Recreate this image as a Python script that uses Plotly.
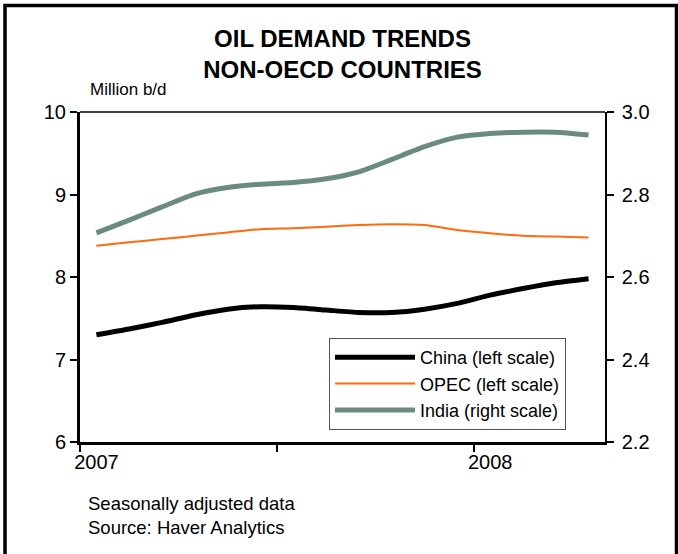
import plotly.graph_objects as go

# ---- data ----
months = ["2007-01", "2007-02", "2007-03", "2007-04", "2007-05", "2007-06",
          "2007-07", "2007-08", "2007-09", "2007-10", "2007-11", "2007-12",
          "2008-01", "2008-02", "2008-03", "2008-04"]
china = [7.30, 7.37, 7.45, 7.54, 7.61, 7.64, 7.63, 7.60, 7.57, 7.57, 7.61, 7.68,
         7.78, 7.86, 7.93, 7.98]
opec = [8.38, 8.42, 8.46, 8.50, 8.54, 8.58, 8.59, 8.61, 8.63, 8.64, 8.63, 8.57,
        8.53, 8.50, 8.49, 8.48]
india = [2.707, 2.738, 2.770, 2.801, 2.817, 2.825, 2.829, 2.838, 2.855, 2.885,
         2.916, 2.939, 2.948, 2.951, 2.951, 2.944]
year_labels = ["2007", "2008"]
left_ticks = [6, 7, 8, 9, 10]
right_ticks = [2.2, 2.4, 2.6, 2.8, 3.0]

x = list(range(len(months)))
year_pos = [i for i, m in enumerate(months) if m.endswith("-01")]

FONT = "Liberation Sans, Arial, sans-serif"
INDIA_COLOR = "#6b8b82"
ORANGE = "#ff6a0d"

fig = go.Figure()
fig.add_trace(go.Scatter(x=x, y=china, name="China (left scale)", mode="lines",
                         line=dict(color="black", width=5, shape="spline", smoothing=0.6)))
fig.add_trace(go.Scatter(x=x, y=opec, name="OPEC (left scale)", mode="lines",
                         line=dict(color=ORANGE, width=2, shape="spline", smoothing=0.6)))
fig.add_trace(go.Scatter(x=x, y=india, name="India (right scale)", mode="lines", yaxis="y2",
                         line=dict(color=INDIA_COLOR, width=5, shape="spline", smoothing=0.6)))

W, H = 678, 554
L, R, T, B = 80, 73, 112, 112
pw, ph = W - L - R, H - T - B

def px(xp):
    return (xp - L) / pw

def py(yp):
    return (H - B - yp) / ph

fig.update_layout(
    width=W, height=H,
    margin=dict(l=L, r=R, t=T, b=B),
    paper_bgcolor="white", plot_bgcolor="white",
    font=dict(family=FONT, color="black", size=20),
    title=dict(text="<b>OIL DEMAND TRENDS<br>NON-OECD COUNTRIES</b>",
               font=dict(family=FONT, size=24, color="black"),
               x=0.5, xref="paper", xanchor="center",
               y=1 - 47 / H, yref="container", yanchor="top"),
    xaxis=dict(range=[-0.5, len(months) - 0.5], tickmode="array",
               tickvals=year_pos, ticktext=year_labels, ticks="",
               showgrid=False, zeroline=False, showline=True, linecolor="black", linewidth=3,
               tickfont=dict(size=20),
               minor=dict(tick0=-0.5, dtick=6, ticks="outside", ticklen=7, tickwidth=2,
                          tickcolor="black", showgrid=False)),
    yaxis=dict(range=[6, 10], tickmode="array", tickvals=left_ticks,
               ticks="outside", ticklen=7, tickwidth=2, tickcolor="black",
               showgrid=False, zeroline=False, showline=True, linecolor="black", linewidth=3,
               tickfont=dict(size=20)),
    yaxis2=dict(range=[2.2, 3.0], overlaying="y", side="right", tickmode="array",
                tickvals=right_ticks, tickformat=".1f",
                ticks="outside", ticklen=7, tickwidth=1.5, tickcolor="black",
                ticklabelstandoff=4,
                showgrid=False, zeroline=False, showline=True, linecolor="black", linewidth=1.5,
                tickfont=dict(size=20)),
    legend=dict(x=px(329), y=py(338), xanchor="left", yanchor="top",
                bgcolor="white", bordercolor="#555555", borderwidth=1,
                font=dict(family=FONT, size=18, color="black"),
                itemwidth=80, entrywidth=175, tracegroupgap=0),
    showlegend=True,
)

# top frame line of plot area
fig.add_shape(type="line", xref="paper", yref="paper", x0=0, x1=1, y0=1, y1=1,
              line=dict(color="black", width=1.5))
# outer border
fig.add_shape(type="rect", xref="paper", yref="paper",
              x0=px(5), x1=px(676.5), y0=py(570), y1=py(5.5),
              line=dict(color="black", width=3.5), fillcolor="rgba(0,0,0,0)")

fig.add_annotation(text="Million b/d", xref="paper", yref="paper",
                   x=px(88), y=py(101), xanchor="left", yanchor="bottom",
                   showarrow=False, font=dict(family=FONT, size=17, color="black"))
fig.add_annotation(text="Seasonally adjusted data<br>Source: Haver Analytics",
                   xref="paper", yref="paper", x=px(86), y=py(491),
                   xanchor="left", yanchor="top", align="left",
                   showarrow=False, font=dict(family=FONT, size=18.5, color="black"))

fig.write_html("out.html")
